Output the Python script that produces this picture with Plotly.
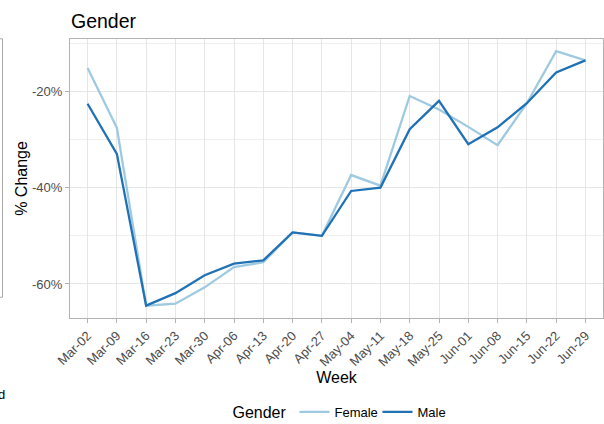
import plotly.graph_objects as go

weeks = ["Mar-02", "Mar-09", "Mar-16", "Mar-23", "Mar-30", "Apr-06", "Apr-13", "Apr-20", "Apr-27",
         "May-04", "May-11", "May-18", "May-25", "Jun-01", "Jun-08", "Jun-15", "Jun-22", "Jun-29"]
female = [-15.2, -27.6, -64.5, -64.1, -60.7, -56.5, -55.5, -49.3, -50.0,
          -37.4, -39.6, -21.0, -23.8, -27.4, -31.2, -22.5, -11.7, -13.6]
male = [-22.6, -33.0, -64.5, -61.9, -58.2, -55.8, -55.1, -49.3, -50.0,
        -40.7, -40.0, -27.9, -22.0, -31.0, -27.5, -22.5, -16.1, -13.6]
ytick_vals = [-20, -40, -60]
ytick_text = ["-20%", "-40%", "-60%"]
yminor_vals = [-10, -30, -50]

W, H = 604, 424
L, R, T, B = 69.5, 602.7, 38.7, 318.3

def px_x(p):
    return (p - L) / (R - L)

def px_y(p):
    return (B - p) / (B - T)

fig = go.Figure()
fig.add_trace(go.Scatter(x=weeks, y=female, mode="lines", name="Female",
                         line=dict(color="#9ECAE1", width=2.3)))
fig.add_trace(go.Scatter(x=weeks, y=male, mode="lines", name="Male",
                         line=dict(color="#2171B5", width=2.3)))

fig.update_layout(
    width=W, height=H, autosize=False,
    margin=dict(l=L, r=W - R, t=T, b=H - B, pad=0, autoexpand=False),
    paper_bgcolor="white", plot_bgcolor="white",
    font=dict(family="Liberation Sans, Arial, sans-serif", color="#000000"),
    showlegend=True,
    xaxis=dict(type="category", categoryorder="array", categoryarray=weeks,
               range=[-0.6, len(weeks) - 0.4], automargin=False,
               showgrid=True, gridcolor="#E6E6E6", gridwidth=1,
               showline=True, mirror=True, linecolor="#B3B3B3", linewidth=1,
               ticks="outside", ticklen=4, tickcolor="#B3B3B3", tickwidth=1,
               tickangle=-45, tickfont=dict(size=13, color="#4D4D4D"),
               title=dict(text="Week", font=dict(size=16, color="#000000"), standoff=2),
               zeroline=False),
    yaxis=dict(range=[-67.06, -9.17], automargin=False,
               tickmode="array", tickvals=ytick_vals, ticktext=ytick_text,
               showgrid=True, gridcolor="#E6E6E6", gridwidth=1,
               minor=dict(tickmode="array", tickvals=yminor_vals, showgrid=True,
                          gridcolor="#EFEFEF", gridwidth=0.7, ticks=""),
               showline=True, mirror=True, linecolor="#B3B3B3", linewidth=1,
               ticks="outside", ticklen=4, tickcolor="#B3B3B3", tickwidth=1,
               tickfont=dict(size=13, color="#4D4D4D"),
               title=dict(text="% Change", font=dict(size=16, color="#000000"), standoff=0),
               zeroline=False),
    legend=dict(orientation="h", x=px_x(230), xanchor="left", y=px_y(413), yanchor="middle",
                title=dict(text="Gender", font=dict(size=16, color="#000000"), side="left"),
                font=dict(size=13, color="#000000"), itemwidth=30,
                entrywidth=38, entrywidthmode="pixels",
                bgcolor="rgba(0,0,0,0)"),
)

# title as annotation (left aligned with panel)
fig.add_annotation(text="Gender", xref="paper", yref="paper", x=px_x(68), y=px_y(21),
                   xanchor="left", yanchor="middle", showarrow=False,
                   font=dict(size=19.5, color="#000000"))

# remnants of the neighbouring panel (cropped figure edge)
fig.add_shape(type="rect", xref="paper", yref="paper",
              x0=px_x(-20), x1=px_x(2), y0=px_y(297.5), y1=px_y(38.5),
              line=dict(color="#A8A8A8", width=1), fillcolor="rgba(0,0,0,0)", layer="above")
fig.add_annotation(text="d", xref="paper", yref="paper", x=px_x(6), y=px_y(395),
                   xanchor="right", yanchor="middle", showarrow=False,
                   font=dict(size=13, color="#000000"))

post = (
    "document.documentElement.style.margin='0';"
    "document.body.style.margin='0';document.body.style.padding='0';"
    "document.body.style.overflow='hidden';"
    "var gd=document.getElementById('{plot_id}');"
    "Plotly.relayout(gd,{width:%d,height:%d});" % (W, H)
)

fig.write_html("out.html", config={"responsive": False, "displayModeBar": False},
               post_script=post)
